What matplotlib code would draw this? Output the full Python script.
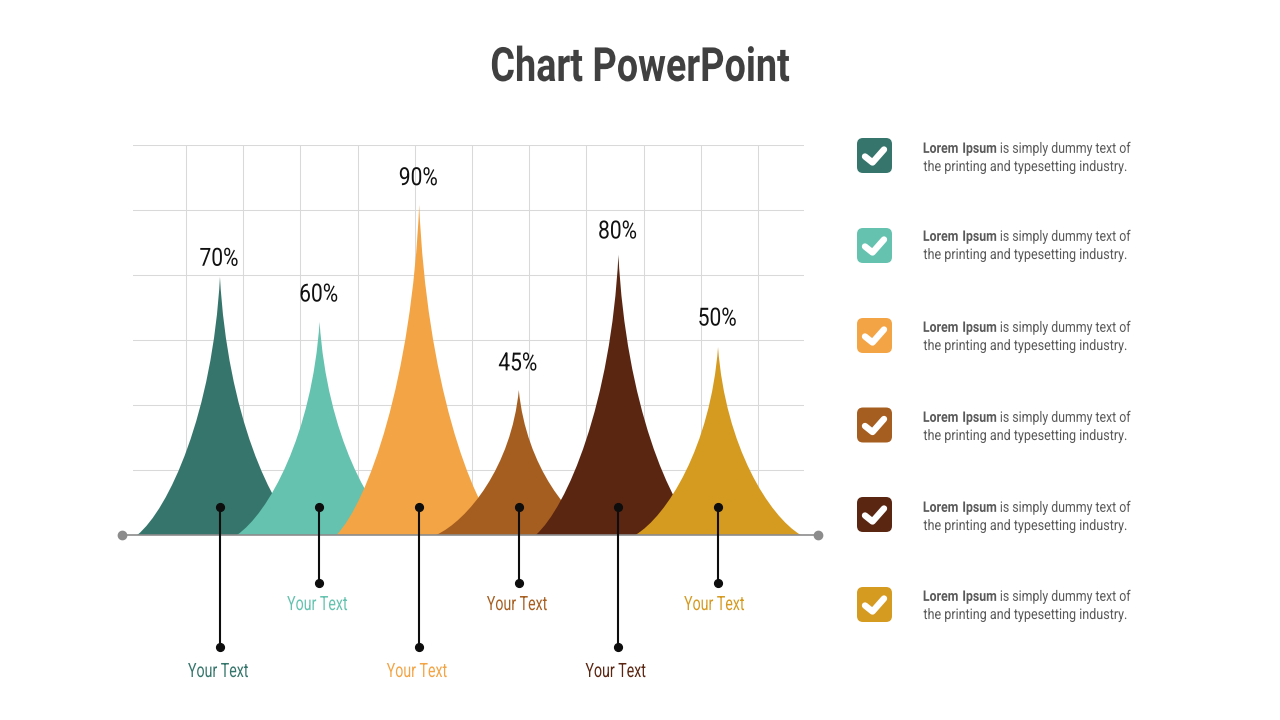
import matplotlib
matplotlib.use("Agg")
import matplotlib.pyplot as plt
import numpy as np
from matplotlib.patches import PathPatch, FancyBboxPatch
from matplotlib.path import Path
from matplotlib.patheffects import AbstractPathEffect
from matplotlib.transforms import Affine2D

plt.rcParams['font.family'] = ['Roboto', 'DejaVu Sans']
plt.rcParams['mathtext.fontset'] = 'custom'
plt.rcParams['mathtext.bf'] = 'Roboto:bold'
plt.rcParams['mathtext.rm'] = 'Roboto'

categories = ["Your Text"] * 6
percent_labels = ["70%", "60%", "90%", "45%", "80%", "50%"]
peak_heights = [39.7, 32.8, 50.8, 22.3, 43.1, 28.9]
label_heights = [42.5, 37.0, 54.9, 26.4, 46.7, 33.3]
caption_heights = [-21.0, -10.7, -21.0, -10.7, -21.0, -10.7]
caption_shift = [-0.015, -0.02, -0.02, -0.015, -0.025, -0.035]
stem_ends = [-17.2, -7.4, -17.2, -7.4, -17.2, -7.4]
colors = ["#35756B", "#64C2AF", "#F3A445", "#A65E20", "#5A2612", "#D59A20"]
legend_line1 = r"$\mathbf{Lorem\ Ipsum}$ is simply dummy text of"
legend_line2 = "the printing and typesetting industry."


class Narrow(AbstractPathEffect):
    """Condense a text horizontally about its own centre (no condensed font is installed)."""
    def __init__(self, factor):
        super().__init__()
        self.factor = factor

    def draw_path(self, renderer, gc, tpath, affine, rgbFace=None):
        ext = tpath.get_extents()
        cx = 0.5 * (ext.x0 + ext.x1)
        squeeze = Affine2D().translate(-cx, 0).scale(self.factor, 1).translate(cx, 0)
        renderer.draw_path(gc, tpath, squeeze + affine, rgbFace)


fig = plt.figure(figsize=(12.8, 7.2), dpi=100, facecolor="white")

page = fig.add_axes([0, 0, 1, 1], zorder=3)
page.set_xlim(0, 1280)
page.set_ylim(720, 0)
page.axis("off")
page.patch.set_alpha(0)

ax = fig.add_axes([133 / 1280, 1 - 535 / 720, (804 - 133) / 1280, (535 - 145) / 720], zorder=2)
ax.set_xlim(-0.873, 5.863)
ax.set_ylim(0, 60)
ax.set_yticks(np.arange(0, 61, 10))
ax.set_xticks(-0.341 + 0.5743 * np.arange(11))
ax.grid(True, color="#D9D9D9", lw=0.75)
ax.set_axisbelow(True)
ax.tick_params(length=0, labelbottom=False, labelleft=False)
for s in ax.spines.values():
    s.set_visible(False)

HALF = 0.83
def peak_path(xc, h):
    verts = [(xc - HALF, 0),
             (xc - 0.62 * HALF, 0.10 * h), (xc - 0.09 * HALF, 0.47 * h), (xc, h),
             (xc + 0.09 * HALF, 0.47 * h), (xc + 0.62 * HALF, 0.10 * h), (xc + HALF, 0),
             (xc - HALF, 0)]
    codes = [Path.MOVETO, Path.CURVE4, Path.CURVE4, Path.CURVE4,
             Path.CURVE4, Path.CURVE4, Path.CURVE4, Path.CLOSEPOLY]
    return Path(verts, codes)

for i, (h, c) in enumerate(zip(peak_heights, colors)):
    ax.add_patch(PathPatch(peak_path(i, h), facecolor=c, edgecolor="none", zorder=3 + i * 0.01))

ax.plot([-0.984, 6.004], [0, 0], color="#8C8C8C", lw=1.2, clip_on=False, zorder=5,
        marker="o", ms=6, markevery=[0, 1], solid_capstyle="butt")

for i, (lab, lh, cap, ch, cs, end, c) in enumerate(zip(percent_labels, label_heights, categories,
                                                       caption_heights, caption_shift, stem_ends, colors)):
    ax.plot([i - 0.003, i - 0.003], [4.3, end], color="#0D0D0D", lw=1.5, clip_on=False, zorder=6,
            marker="o", ms=5.6, markevery=[0, 1])
    ax.text(i - 0.01, lh, lab, ha="center", va="center", fontsize=18, color="#111111",
            zorder=7, path_effects=[Narrow(0.84)])
    ax.text(i + cs, ch, cap, ha="center", va="center", fontsize=14.2, color=c,
            clip_on=False, zorder=7, path_effects=[Narrow(0.72)])

page.text(640, 68, "Chart PowerPoint", ha="center", va="center", fontsize=34,
          fontweight="bold", color="#404040", path_effects=[Narrow(0.80)])

legend_y = [155.5, 245.5, 335.5, 425, 514.5, 604.5]
text_y = [[148, 166], [236, 254], [327, 345], [417, 435], [507, 525], [596, 614]]
for y, ty, c in zip(legend_y, text_y, colors):
    page.add_patch(FancyBboxPatch((861, y - 13.5), 27, 27, boxstyle="round,pad=4,rounding_size=6",
                                  facecolor=c, edgecolor="none"))
    page.plot([865, 872.5, 884], [y + 1, y + 7, y - 6], color="white", lw=4.6,
              solid_capstyle="round", solid_joinstyle="round")
    page.text(1028, ty[0] + 1, legend_line1, fontsize=10.5, color="#595959", va="center", ha="center",
              path_effects=[Narrow(0.845)])
    page.text(1025.7, ty[1] + 1, legend_line2, fontsize=10.5, color="#595959", va="center", ha="center",
              path_effects=[Narrow(0.862)])

fig.savefig("out.png", dpi=100)
